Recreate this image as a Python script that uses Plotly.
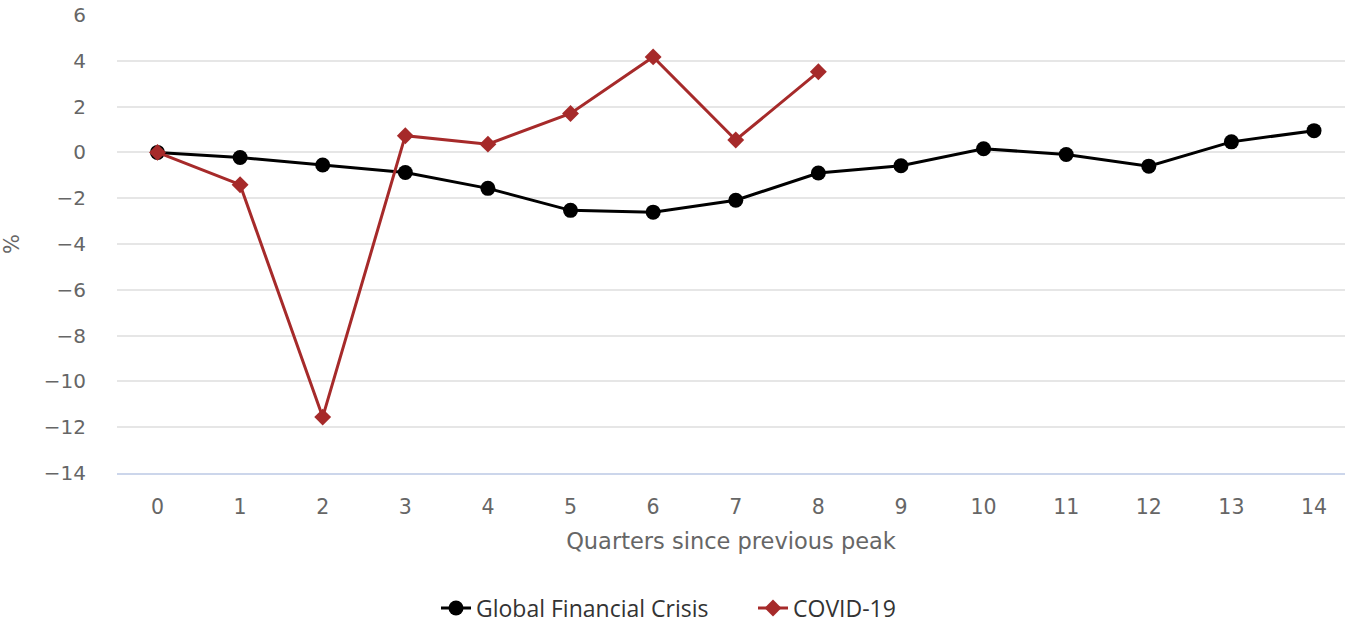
import plotly.graph_objects as go

quarters = list(range(15))
gfc = [0.0, -0.22, -0.55, -0.88, -1.57, -2.53, -2.61, -2.09, -0.9, -0.58, 0.16, -0.09, -0.6, 0.46, 0.95]
covid_q = list(range(9))
covid = [0.0, -1.41, -11.56, 0.73, 0.36, 1.70, 4.17, 0.54, 3.52]
y_ticks = [6, 4, 2, 0, -2, -4, -6, -8, -10, -12, -14]

AXIS_FONT = "DejaVu Sans, Verdana, sans-serif"
LEGEND_FONT = "Open Sans, Lato, sans-serif"

fig = go.Figure()
fig.add_trace(go.Scatter(
    x=quarters, y=gfc, name="Global Financial Crisis", mode="lines+markers",
    line=dict(color="#000000", width=3),
    marker=dict(symbol="circle", size=15, color="#000000"),
))
fig.add_trace(go.Scatter(
    x=covid_q, y=covid, name="COVID-19", mode="lines+markers",
    line=dict(color="#a62a2a", width=3),
    marker=dict(symbol="diamond", size=13, color="#a62a2a"),
))

fig.update_layout(
    width=1345, height=626,
    margin=dict(l=117, r=0, t=15, b=153, autoexpand=False),
    paper_bgcolor="white", plot_bgcolor="white",
    font=dict(family=AXIS_FONT, color="#666666", size=20),
    showlegend=True,
    legend=dict(orientation="h", xref="container", x=436 / 1345, xanchor="left",
                yref="container", y=(626 - 608) / 626, yanchor="middle",
                font=dict(family=LEGEND_FONT, size=23, color="#333333"),
                entrywidth=272, entrywidthmode="pixels", tracegroupgap=0),
    xaxis=dict(
        range=[-0.49, 14.375], tickmode="array", tickvals=quarters,
        ticktext=[str(q) for q in quarters],
        showgrid=False, zeroline=False, automargin=False,
        showline=True, linecolor="#ccd6eb", linewidth=2,
        ticks="", ticklabelstandoff=14,
        tickfont=dict(size=20.5, color="#666666"),
        title=dict(text="Quarters since previous peak", font=dict(size=22.5, color="#666666"), standoff=16),
    ),
    yaxis=dict(
        range=[-14, 6], tickmode="array", tickvals=y_ticks,
        showgrid=True, gridcolor="#e6e6e6", gridwidth=1.5,
        zeroline=False, showline=False, ticks="", automargin=False,
        ticklabelstandoff=30,
        tickfont=dict(size=20, color="#666666"),
        title=dict(text="%", font=dict(size=21, color="#666666"), standoff=20),
    ),
)

fig.write_html("out.html", config={"displayModeBar": False},
               post_script="document.body.style.margin='0';")
